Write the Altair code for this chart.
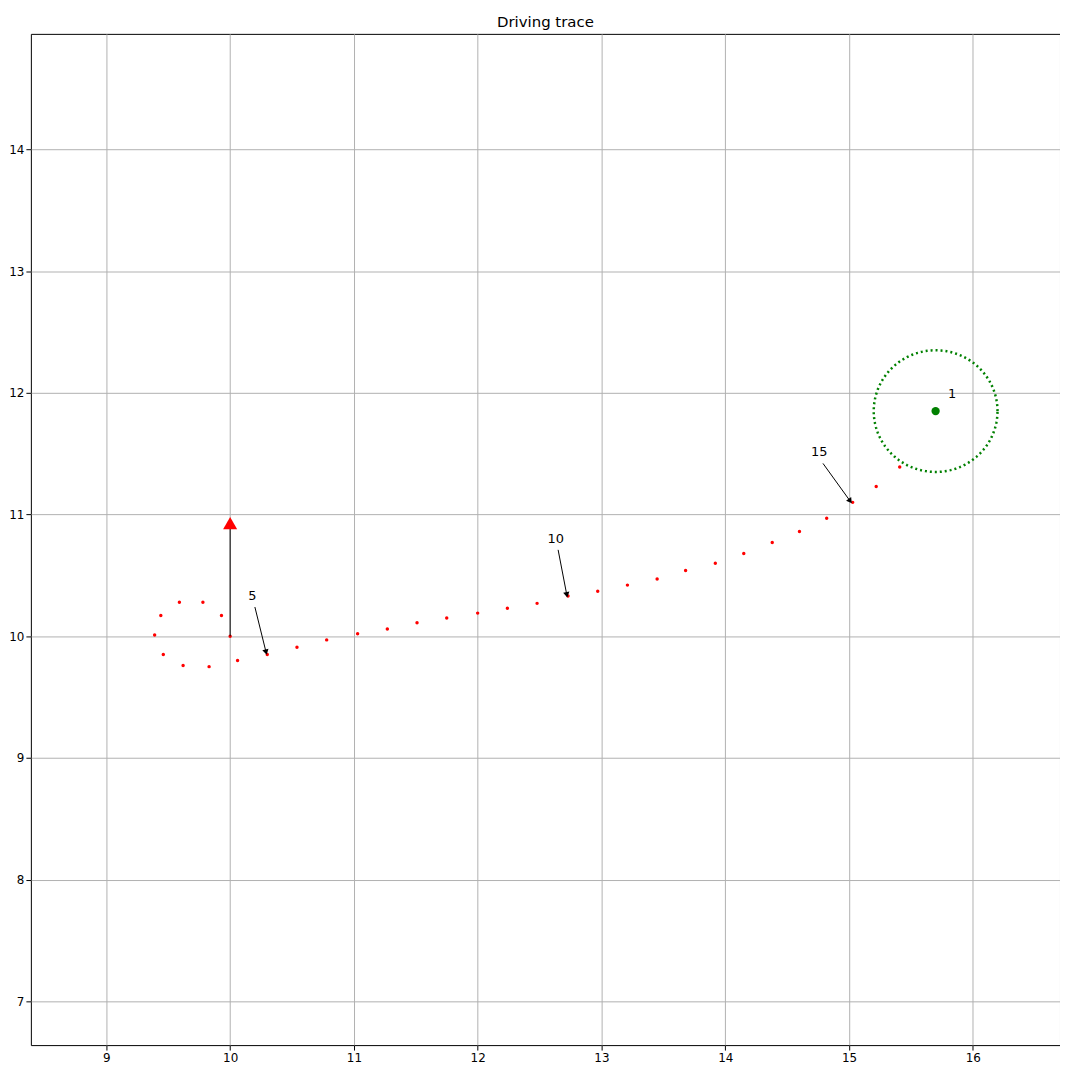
import numpy as np
import pandas as pd
import altair as alt

# trace points
trace_x = [9.39, 9.44, 9.59, 9.78, 9.93, 10.0, 10.06, 10.30, 10.54, 10.78, 11.03, 11.27,
           11.51, 11.75, 12.0, 12.24, 12.48, 12.73, 12.97, 13.21, 13.45, 13.68, 13.92,
           14.15, 14.38, 14.60, 14.82, 15.03, 15.22, 15.41, 9.46, 9.62, 9.83]
trace_y = [10.01, 10.17, 10.28, 10.28, 10.17, 10.0, 9.80, 9.85, 9.91, 9.97, 10.02, 10.06,
           10.11, 10.15, 10.19, 10.23, 10.27, 10.33, 10.37, 10.42, 10.47, 10.54, 10.60,
           10.68, 10.77, 10.86, 10.97, 11.10, 11.23, 11.39, 9.85, 9.76, 9.75]

goal_x, goal_y, goal_r = 15.70, 11.85, 0.5

# annotations: label, text position, arrow tip
ann_label = ["5", "10", "15"]
ann_tx = [10.18, 12.63, 14.76]
ann_ty = [10.33, 10.80, 11.51]
ann_sx = [10.20, 12.65, 14.79]
ann_sy = [10.24, 10.71, 11.42]
ann_px = [10.29, 12.72, 15.01]
ann_py = [9.87, 10.34, 11.11]

XD = [8.39, 16.705]
YD = [6.64, 14.95]
xs = alt.Scale(domain=XD, nice=False, zero=False)
ys = alt.Scale(domain=YD, nice=False, zero=False)
ax = alt.Axis(values=list(range(9, 17)), format="d", grid=True, gridColor="#b0b0b0", title=None,
              labelFontSize=12, labelColor="black", tickColor="black", domain=False)
ay = alt.Axis(values=list(range(7, 15)), format="d", grid=True, gridColor="#b0b0b0", title=None,
              labelFontSize=12, labelColor="black", tickColor="black", domain=False)

trace = pd.DataFrame({"x": trace_x, "y": trace_y})
base = alt.Chart(trace).mark_point(filled=True, color="red", size=12, opacity=1).encode(
    x=alt.X("x:Q", scale=xs, axis=ax), y=alt.Y("y:Q", scale=ys, axis=ay))

t = np.linspace(0, 2 * np.pi, 200)
circ = pd.DataFrame({"x": goal_x + goal_r * np.cos(t), "y": goal_y + goal_r * np.sin(t), "o": range(200)})
circle = alt.Chart(circ).mark_line(color="green", strokeWidth=2.5, strokeDash=[2, 3]).encode(
    x=alt.X("x:Q", scale=xs), y=alt.Y("y:Q", scale=ys), order="o:Q")

goal = alt.Chart(pd.DataFrame({"x": [goal_x], "y": [goal_y]})).mark_point(
    filled=True, color="green", size=70, opacity=1).encode(x=alt.X("x:Q", scale=xs), y=alt.Y("y:Q", scale=ys))
goal_txt = alt.Chart(pd.DataFrame({"x": [goal_x + 0.1], "y": [goal_y + 0.14], "t": ["1"]})).mark_text(
    fontSize=13, align="left", font="DejaVu Sans").encode(x=alt.X("x:Q", scale=xs), y=alt.Y("y:Q", scale=ys), text="t:N")

# heading arrow
head = pd.DataFrame({"x": [10.0], "y": [10.0], "y2": [10.93]})
head_line = alt.Chart(head).mark_rule(color="black", strokeWidth=1).encode(
    x=alt.X("x:Q", scale=xs), y=alt.Y("y:Q", scale=ys), y2="y2:Q")
head_tip = alt.Chart(head).mark_point(shape="triangle-up", filled=True, color="red", size=200, opacity=1).encode(
    x=alt.X("x:Q", scale=xs), y=alt.Y("y2:Q", scale=ys))

ann = pd.DataFrame({"t": ann_label, "tx": ann_tx, "ty": ann_ty, "sx": ann_sx, "sy": ann_sy,
                    "px": ann_px, "py": ann_py})
ann["ang"] = [(-np.degrees(np.arctan2((px - sx) * 124.7, (sy - py) * 122.7))) % 360
              for sx, sy, px, py in zip(ann_sx, ann_sy, ann_px, ann_py)]
ann_text = alt.Chart(ann).mark_text(fontSize=13, font="DejaVu Sans").encode(
    x=alt.X("tx:Q", scale=xs), y=alt.Y("ty:Q", scale=ys), text="t:N")
ann_line = alt.Chart(ann).mark_rule(color="black", strokeWidth=1).encode(
    x=alt.X("sx:Q", scale=xs), y=alt.Y("sy:Q", scale=ys), x2="px:Q", y2="py:Q")
ann_tip = alt.Chart(ann).mark_point(shape="triangle-down", filled=True, color="black", size=40, opacity=1).encode(
    x=alt.X("px:Q", scale=xs), y=alt.Y("py:Q", scale=ys), angle=alt.Angle("ang:Q", scale=None))

chart = alt.layer(base, circle, goal, goal_txt, head_line, head_tip, ann_line, ann_tip, ann_text).properties(
    width=1058, height=1058,
    title=alt.TitleParams("Driving trace", fontSize=15, fontWeight="normal", font="DejaVu Sans", offset=4),
    autosize=alt.AutoSizeParams(type="fit", contains="padding"),
    padding={"left": 0, "top": 4, "right": 0, "bottom": 0},
).configure_view(stroke="black", strokeWidth=1).configure_axis(labelFont="DejaVu Sans")

chart.save("out.html", embed_options={"renderer": "svg", "actions": False})
